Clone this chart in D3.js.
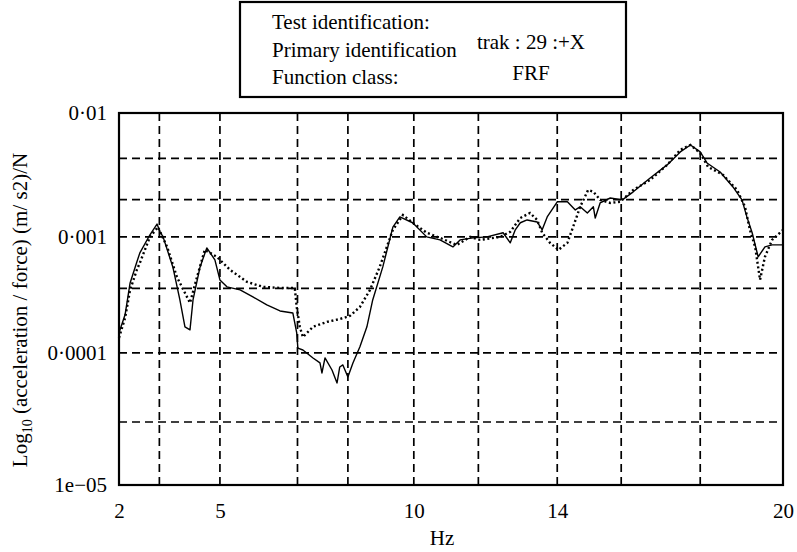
<!DOCTYPE html>
<html>
<head>
<meta charset="utf-8">
<script src="https://cdn.jsdelivr.net/npm/d3@7"></script>
<style>
  html, body { margin: 0; padding: 0; background: #fff; }
  svg { display: block; font-family: "Liberation Serif", "Times New Roman", serif; }
</style>
</head>
<body>
<svg id="chart" width="797" height="552"></svg>
<script>
// ---------------- DATA ----------------
const xTickValues = [2, 5, 10, 14, 20];
const xTickLabels = ["2", "5", "10", "14", "20"];
const yTickValues = [0.01, 0.001, 0.0001, 0.00001];
const yTickLabels = ["0\u00b701", "0\u00b7001", "0\u00b70001", "1e\u221205"];
const xGridValues = [3.2, 5, 7, 8.3, 10, 11.8, 14, 15.7, 17.8];
const yGridValues = [0.0043, 0.002, 0.001, 0.00036, 0.0001, 0.00003];

const headerLabels = ["Test identification:", "Primary identification", "Function class:"];
const headerValues = ["trak : 29 :+X", "FRF"];
const xTitle = "Hz";

// solid series: frequency (Hz)
const solidHz = [2.00, 2.18, 2.33, 2.53, 2.62, 2.92, 3.13, 3.22, 3.31, 3.60, 3.81, 3.96, 4.11, 4.20, 4.41, 4.61, 4.85, 5.00,
  5.18, 5.52, 5.85, 6.21, 6.55, 6.88, 6.98, 7.01, 7.14, 7.40, 7.58, 7.63, 7.71, 7.89, 8.02, 8.09, 8.17, 8.30, 8.43,
  8.61, 8.79, 8.94, 9.20, 9.46, 9.64, 9.97, 10.36, 10.73, 11.09, 11.29, 11.65, 12.04, 12.49, 12.69, 12.83, 12.97,
  13.16, 13.44, 13.58, 13.72, 14.00, 14.27, 14.48, 14.61, 14.80, 14.96, 15.01, 15.14, 15.41, 15.73, 16.02, 16.47,
  16.92, 17.27, 17.54, 17.80, 17.98, 18.33, 18.67, 18.91, 19.04, 19.18, 19.34, 19.52, 19.71, 20.00];
// solid series: acceleration / force
const solidVal = [1.49e-4, 2.13e-4, 4.01e-4, 6.08e-4, 7.28e-4, 1.04e-3, 1.27e-3, 1.10e-3, 1.00e-3, 5.51e-4, 2.86e-4,
  1.68e-4, 1.58e-4, 2.86e-4, 5.51e-4, 8.04e-4, 6.34e-4, 4.26e-4, 3.71e-4, 3.49e-4, 3.04e-4, 2.59e-4, 2.30e-4, 2.21e-4,
  1.49e-4, 1.10e-4, 1.06e-4, 9.16e-5, 8.40e-5, 7.05e-5, 9.16e-5, 7.43e-5, 5.92e-5, 7.83e-5, 8.11e-5, 6.58e-5, 8.40e-5,
  1.13e-4, 1.68e-4, 2.86e-4, 5.51e-4, 1.20e-3, 1.45e-3, 1.30e-3, 1.00e-3, 9.42e-4, 8.20e-4, 9.42e-4, 9.80e-4, 1.00e-3,
  1.08e-3, 8.88e-4, 1.14e-3, 1.30e-3, 1.37e-3, 1.32e-3, 1.14e-3, 1.45e-3, 1.92e-3, 1.92e-3, 1.65e-3, 1.75e-3, 1.56e-3,
  1.75e-3, 1.42e-3, 1.88e-3, 2.06e-3, 1.99e-3, 2.31e-3, 2.99e-3, 3.81e-3, 4.85e-3, 5.52e-3, 4.85e-3, 3.95e-3, 3.34e-3,
  2.53e-3, 1.99e-3, 1.45e-3, 1.08e-3, 6.73e-4, 8.20e-4, 8.53e-4, 8.53e-4];

// dotted series: frequency (Hz)
const dottedHz = [2.00, 2.18, 2.33, 2.53, 2.62, 2.92, 3.16, 3.43, 3.72, 4.02, 4.11, 4.32, 4.55, 4.91, 5.26, 5.70, 6.11,
  6.55, 6.93, 6.98, 7.06, 7.14, 7.40, 7.76, 8.09, 8.35, 8.61, 8.87, 9.12, 9.46, 9.72, 9.97, 10.36, 10.73, 11.20, 11.57,
  11.85, 12.41, 12.69, 12.97, 13.24, 13.44, 13.58, 13.80, 14.03, 14.27, 14.42, 14.61, 14.82, 14.96, 15.14, 15.41, 15.67,
  16.02, 16.47, 16.92, 17.27, 17.54, 17.80, 18.01, 18.41, 18.78, 18.99, 19.12, 19.26, 19.39, 19.52, 19.71, 19.92, 20.00];
// dotted series: acceleration / force
const dottedVal = [1.35e-4, 2.00e-4, 3.49e-4, 5.20e-4, 5.97e-4, 1.00e-3, 1.20e-3, 8.20e-4, 4.52e-4, 3.04e-4, 2.70e-4,
  4.52e-4, 7.73e-4, 6.73e-4, 5.20e-4, 4.09e-4, 3.71e-4, 3.63e-4, 3.63e-4, 2.49e-4, 1.68e-4, 1.37e-4, 1.68e-4, 1.85e-4,
  1.96e-4, 2.08e-4, 2.49e-4, 3.49e-4, 5.51e-4, 1.14e-3, 1.50e-3, 1.30e-3, 1.08e-3, 9.80e-4, 8.53e-4, 1.00e-3, 9.42e-4,
  1.00e-3, 1.10e-3, 1.42e-3, 1.56e-3, 1.37e-3, 1.08e-3, 8.88e-4, 7.73e-4, 8.88e-4, 1.20e-3, 1.75e-3, 2.39e-3, 2.31e-3,
  1.99e-3, 1.88e-3, 1.92e-3, 2.39e-3, 2.88e-3, 3.81e-3, 5.04e-3, 5.52e-3, 4.75e-3, 3.67e-3, 3.16e-3, 2.39e-3, 1.75e-3,
  1.14e-3, 8.20e-4, 4.26e-4, 6.73e-4, 9.42e-4, 1.08e-3, 1.14e-3];

// ---------------- LAYOUT ----------------
const svg = d3.select("#chart");
const plot = { left: 119, top: 113, width: 664, height: 372 };
const FONT = 21;

// piecewise scales (axis of the original figure is not uniform)
const xFrac = [0, 0.152, 0.444, 0.660, 1];
const x = d3.scaleLinear()
  .domain(xTickValues)
  .range(xFrac.map(f => plot.left + f * plot.width));
const yFrac = [0, 0.333, 0.645, 1];
const y = d3.scaleLog()
  .domain(yTickValues)
  .range(yFrac.map(f => plot.top + f * plot.height));

// grid
const g = svg.append("g");
g.selectAll("line.vg").data(xGridValues).join("line")
  .attr("x1", d => x(d)).attr("x2", d => x(d))
  .attr("y1", plot.top).attr("y2", plot.top + plot.height)
  .attr("stroke", "#000").attr("stroke-width", 1.7).attr("stroke-dasharray", "8,5");
g.selectAll("line.hg").data(yGridValues).join("line")
  .attr("y1", d => y(d)).attr("y2", d => y(d))
  .attr("x1", plot.left).attr("x2", plot.left + plot.width)
  .attr("stroke", "#000").attr("stroke-width", 1.7).attr("stroke-dasharray", "8,5");

// lines
const solid = solidHz.map((h, i) => [h, solidVal[i]]);
const dotted = dottedHz.map((h, i) => [h, dottedVal[i]]);
const line = d3.line().x(d => x(d[0])).y(d => y(d[1]));

g.append("path").datum(solid).attr("d", line)
  .attr("fill", "none").attr("stroke", "#000").attr("stroke-width", 1.4).attr("stroke-linejoin", "round");
g.append("path").datum(dotted).attr("d", line)
  .attr("fill", "none").attr("stroke", "#000").attr("stroke-width", 2.4)
  .attr("stroke-dasharray", "2,2.6");

// frame
g.append("rect").attr("x", plot.left).attr("y", plot.top)
  .attr("width", plot.width).attr("height", plot.height)
  .attr("fill", "none").attr("stroke", "#000").attr("stroke-width", 2.2);

// x ticks labels
const xAxis = d3.axisBottom(x).tickValues(xTickValues)
  .tickFormat((d, i) => xTickLabels[i]).tickSize(0).tickPadding(18);
const xa = svg.append("g").attr("transform", `translate(0,${plot.top + plot.height})`).call(xAxis);
xa.select(".domain").remove();
xa.selectAll("text").attr("font-size", FONT).attr("font-family", "Liberation Serif").attr("fill", "#000");

// y tick labels
const yAxis = d3.axisLeft(y).tickValues(yTickValues)
  .tickFormat((d, i) => yTickLabels[i]).tickSize(0).tickPadding(12);
const ya = svg.append("g").attr("transform", `translate(${plot.left},0)`).call(yAxis);
ya.select(".domain").remove();
ya.selectAll("text").attr("font-size", FONT).attr("font-family", "Liberation Serif").attr("fill", "#000");

// x title
svg.append("text").attr("x", 442).attr("y", 545).attr("text-anchor", "middle")
  .attr("font-size", FONT).text(xTitle);

// y title (rotated) with subscript
const yt = svg.append("text")
  .attr("transform", `translate(27,${plot.top + plot.height / 2 + 11}) rotate(-90)`)
  .attr("text-anchor", "middle").attr("font-size", FONT);
yt.append("tspan").text("Log");
yt.append("tspan").attr("font-size", 14).attr("dy", 5).text("10");
yt.append("tspan").attr("dy", -5).text(" (acceleration / force) (m/ s2)/N");

// header box
const hb = svg.append("g");
hb.append("rect").attr("x", 240).attr("y", 2).attr("width", 386).attr("height", 95)
  .attr("fill", "#fff").attr("stroke", "#000").attr("stroke-width", 2.2);
hb.selectAll("text.hl").data(headerLabels).join("text")
  .attr("x", 272).attr("y", (d, i) => 29 + i * 27.5)
  .attr("font-size", FONT).text(d => d);
hb.selectAll("text.hv").data(headerValues).join("text")
  .attr("x", 531).attr("y", (d, i) => 49 + i * 31)
  .attr("text-anchor", "middle").attr("font-size", FONT).text(d => d);
</script>
</body>
</html>
